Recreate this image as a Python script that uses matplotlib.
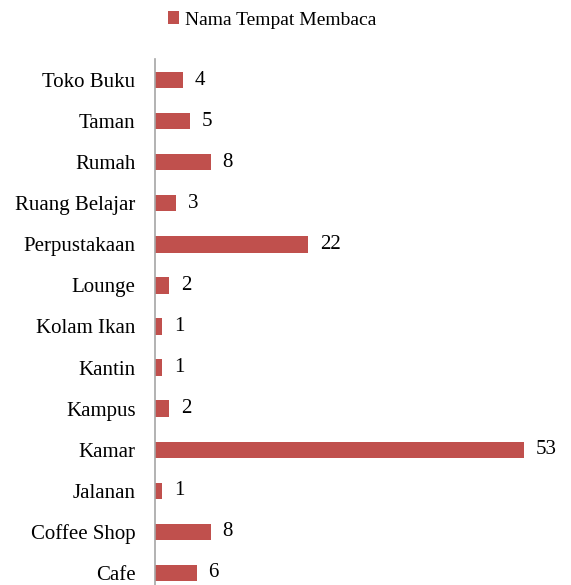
import matplotlib.pyplot as plt
import numpy as np

# data (bottom to top)
places = ["Cafe", "Coffee Shop", "Jalanan", "Kamar", "Kampus", "Kantin",
          "Kolam Ikan", "Lounge", "Perpustakaan", "Ruang Belajar", "Rumah",
          "Taman", "Toko Buku"]
counts = [6, 8, 1, 53, 2, 1, 1, 2, 22, 3, 8, 5, 4]

FONT = 'Liberation Serif'
FS = 15

fig = plt.figure(figsize=(5.71, 5.85), dpi=100)
ax = fig.add_axes([155 / 571, -0.0145, (573 - 155) / 571, 0.9128])

pos = np.arange(len(places))
ax.barh(pos, counts, height=0.4, color='#C0504D', label='Nama Tempat Membaca')
for p, c in zip(pos, counts):
    ax.annotate(str(c), (c, p), xytext=(8.5, 0), textcoords='offset points',
                va='center', ha='left', fontsize=FS, family=FONT)

ax.set_yticks(pos)
ax.set_yticklabels(places, fontsize=FS, family=FONT)
ax.set_ylim(-0.5, 12.5)
ax.set_xlim(0, 60)
ax.set_xticks([])
ax.tick_params(axis='y', length=0, pad=14)
for s in ['top', 'right', 'bottom']:
    ax.spines[s].set_visible(False)
ax.spines['left'].set_color('#A6A6A6')
ax.spines['left'].set_linewidth(1.2)

fig.legend(loc='center', bbox_to_anchor=(272 / 571, 1 - 20 / 585),
           frameon=False, prop={'family': FONT, 'size': 14},
           handlelength=0.6, handleheight=0.6, handletextpad=0.3)

fig.savefig('out.png', dpi=100)
